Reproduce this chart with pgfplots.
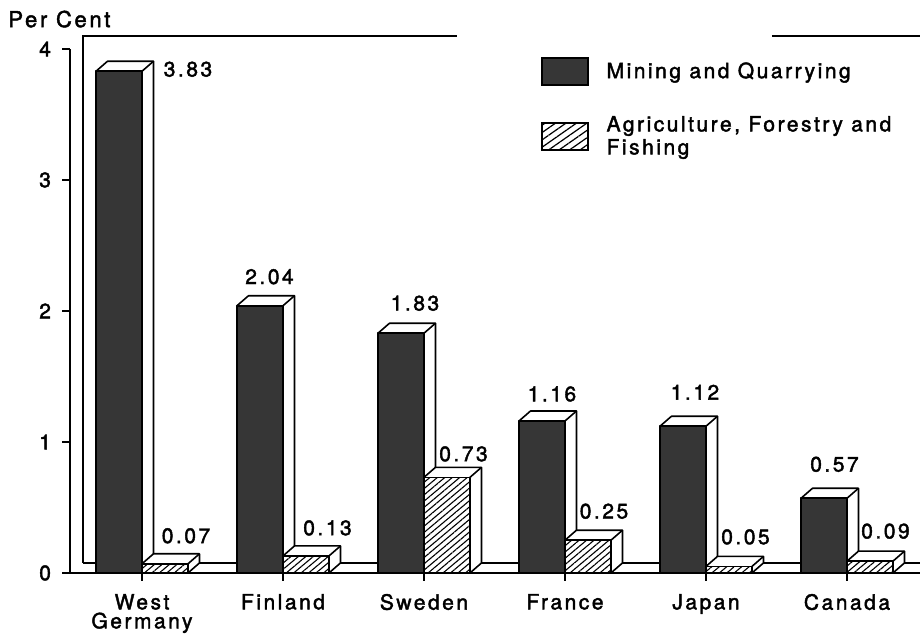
\documentclass[border=0pt]{standalone}
\usepackage{graphicx}
\usepackage{fontspec}
\setmainfont{TeX Gyre Heros}[LetterSpace=12, FakeBold=2]
\usepackage{pgfplots}
\pgfplotsset{compat=1.18}
\usepackage{pgfplotstable}
\usetikzlibrary{patterns.meta}

\definecolor{darkbar}{HTML}{363636}

% share of output, per cent; lx/ly place the value label (pt)
\pgfplotstableread{
x v    lx    ly
0 3.83 23    1
1 2.04 -6.75 14.5
2 1.83 -4.5  15
3 1.16 -6.5  13.5
4 1.12 -5.5  17
5 0.57 -6.25 17
}\mining
\pgfplotstableread{
x v    lx    ly
0 0.07 22    14
1 0.13 22.25 14
2 0.73 19.75 11.7
3 0.25 19.5  14.5
4 0.05 19.75 14.75
5 0.09 19.25 15
}\farming

\def\dX{5.75pt}
\def\dY{5pt}
\tikzset{outl/.style={draw=black, line width=0.8pt, line join=round}}
% a bar as a box around the origin (front top edge at y=0):
% white top and side, then the front face
\newcommand\drawbox[3]{%
  \path[use as bounding box] (-0.5pt,-0.5pt) rectangle (0.5pt,0.5pt);
  \pgfmathsetlengthmacro\bh{\barval*65.5pt}%
  \filldraw[fill=white,outl] (#1,-\bh) -- (#1,0pt) -- ({#1+\dX},\dY) -- ({#2+\dX},\dY)
     -- ({#2+\dX},{\dY-\bh}) -- (#2,-\bh) -- cycle;
  \path[#3] (#1,-\bh) rectangle (#2,0pt);
  \draw[outl] (#1,-\bh) rectangle (#2,0pt);
  \draw[outl] (#2,0pt) -- ({#2+\dX},\dY);
}
\tikzset{hatch/.style={fill=white, postaction={pattern={Lines[angle=40,distance=2.4pt,line width=0.55pt]}}}}

\pgfplotsset{
  boxes/.style={forget plot, draw=none, mark=none,
    visualization depends on={\thisrow{v}\as\barval},
    point meta=\thisrow{v},
    every node near coord/.style={anchor=center, inner sep=0pt, outer sep=0pt}},
  values/.style={forget plot, draw=none, mark=none,
    visualization depends on={\thisrow{lx}\as\lblx},
    visualization depends on={\thisrow{ly}\as\lbly},
    point meta=\thisrow{v},
    nodes near coords={\pgfmathprintnumber[fixed,fixed zerofill,precision=2]{\pgfplotspointmeta}},
    every node near coord/.style={anchor=center, inner sep=0pt, text=black,
      xshift=\lblx pt, yshift=\lbly pt}},
}

\begin{document}
\begin{tikzpicture}
\begin{axis}[
  x=70.5pt, y=65.5pt,
  xmin=-0.5106, xmax=5.518, ymin=0, ymax=4,
  axis x line=bottom, axis y line=left,
  axis line style={-, line width=0.8pt},
  clip=false,
  tick align=outside,
  major tick length=4pt,
  tick style={black, line width=0.8pt},
  xtick={0,...,5},
  xticklabels={{West\\Germany},Finland,Sweden,France,Japan,Canada},
  ytick={0,1,2,3,4},
  font=\fontsize{10.5}{11.5}\selectfont,
  xticklabel style={align=center, font=\fontsize{10.5}{9.5}\selectfont, yshift=-3pt},
  yticklabel style={xshift=-2pt},
  ylabel={\resizebox{51pt}{!}{Per Cent}},
  every axis y label/.style={at={(axis description cs:-0.0729,1.057)},
    anchor=west, inner sep=0pt},
  /pgf/number format/assume math mode=true,
  legend style={at={(axis cs:2.830,3.935)}, anchor=north west, draw=none, fill=none,
    inner sep=0pt, outer sep=0pt, row sep=15pt, column sep=9pt,
    font=\fontsize{10.5}{11.5}\selectfont, cells={anchor=west, align=left},
    nodes={inner sep=0pt}},
  legend cell align=left,
]
% back wall and floor
\addplot[forget plot, black, line width=0.8pt, mark=none]
  coordinates {(-0.418,0.0763) (-0.418,4.099) (2.234,4.099)};
\addplot[forget plot, black, line width=0.8pt, mark=none]
  coordinates {(4.468,4.099) (5.518,4.099)};
\addplot[forget plot, black, line width=0.8pt, mark=none]
  coordinates {(-0.418,0.0763) (5.518,0.0763)};

% boxes
\addplot[boxes, nodes near coords={\tikz{\drawbox{-23pt}{0pt}{fill=darkbar}}}]
  table[x=x, y=v] {\mining};
\addplot[boxes, nodes near coords={\tikz{\drawbox{0pt}{23pt}{hatch}}}]
  table[x=x, y=v] {\farming};
% value labels
\addplot[values] table[x=x, y=v] {\mining};
\addplot[values] table[x=x, y=v] {\farming};

\addlegendimage{legend image code/.code={\filldraw[fill=darkbar,draw=black,line width=0.8pt] (0pt,-6.75pt) rectangle (23pt,6.75pt);}}
\addlegendentry{Mining and Quarrying}
\addlegendimage{legend image code/.code={\filldraw[fill=white,draw=black,line width=0.8pt,postaction={pattern={Lines[angle=35,distance=3pt,line width=0.6pt]}}] (0pt,-6.75pt) rectangle (23pt,6.75pt);}}
\addlegendentry{Agriculture, Forestry and\\Fishing}

\coordinate (TL) at (axis cs:-1.0071,4.374);
\coordinate (BR) at (axis cs:5.518,-0.542);
\end{axis}
\pgfresetboundingbox
\useasboundingbox (TL) rectangle (BR);
\end{tikzpicture}
\end{document}
